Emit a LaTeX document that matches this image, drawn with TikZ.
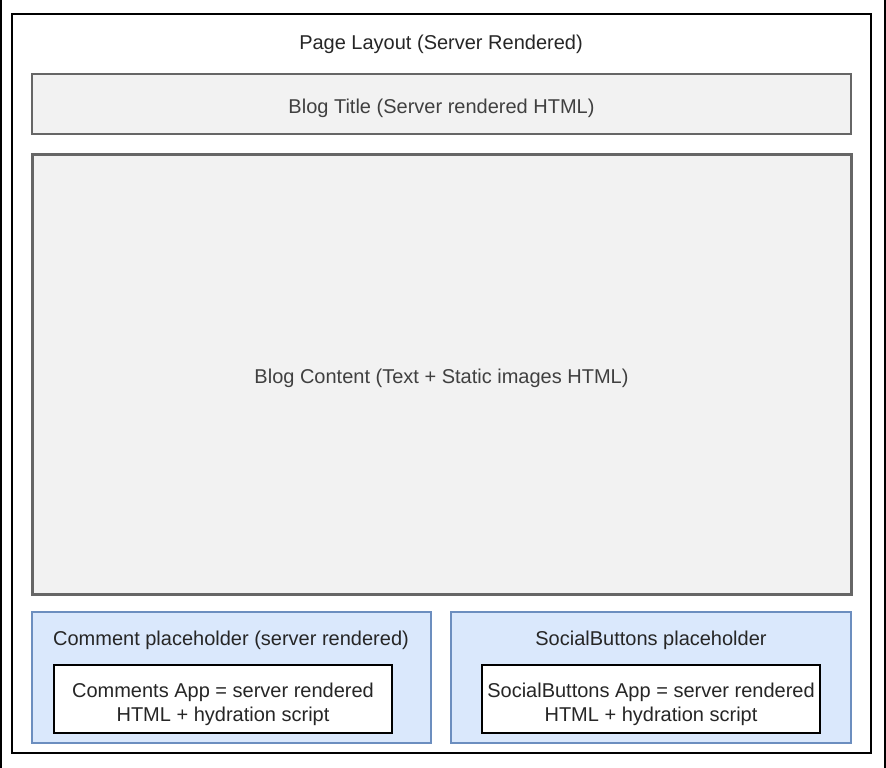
\documentclass[tikz,border=0pt]{standalone}
\usepackage{fontspec}
\setmainfont{Liberation Sans}
\begin{document}
\begin{tikzpicture}[x=1pt,y=-1pt,
  box/.style={draw, rectangle, anchor=north west, inner sep=0pt, outer sep=0pt},
  greybox/.style={box, draw=black!60, fill=black!5},
  appbox/.style={box, draw=black, fill=white, line width=1.3pt},
  lbl/.style={font=\fontsize{20}{24}\selectfont, text=black!85, yshift=-4pt},
  glbl/.style={font=\fontsize{20}{24}\selectfont, text=black!75, align=center, yshift=-4pt},
  applbl/.style={font=\fontsize{20}{24}\selectfont, text=black!85, align=center, yshift=-5pt}
]
\definecolor{phfill}{HTML}{DAE8FC}
\definecolor{phdraw}{HTML}{6C8EBF}
\useasboundingbox (0,0) rectangle (886,768);
\fill[white] (0,0) rectangle (886,768);
% side edges
\draw[line width=1.5pt] (1,0) -- (1,768);
\draw[line width=1.5pt] (885,0) -- (885,768);

% outer page frame
\node[box, draw=black, line width=2pt, minimum width=859pt, minimum height=739pt] (page) at (12,14) {};
\node[lbl] (pagelbl) at (441,40) {Page Layout (Server Rendered)};

% blog title
\node[greybox, line width=1.4pt, minimum width=819pt, minimum height=60pt] (title) at (32,74) {};
\node[glbl] at (title.center) {Blog Title (Server rendered HTML)};

% blog content
\node[greybox, line width=3pt, minimum width=819pt, minimum height=440pt] (content) at (32,154) {};
\node[glbl] at (content.center) {Blog Content (Text + Static images HTML)};

% comment placeholder
\node[box, draw=phdraw, fill=phfill, line width=1.3pt, minimum width=399pt, minimum height=131pt] (comph) at (32,612) {};
\node[lbl] (comphlbl) at (231,636) {Comment placeholder (server rendered)};
\node[appbox, minimum width=338pt, minimum height=68pt] (comapp) at (54,665) {};
\node[applbl] at (comapp.center) {Comments App = server rendered\\HTML + hydration script};

% social buttons placeholder
\node[box, draw=phdraw, fill=phfill, line width=1.3pt, minimum width=400pt, minimum height=131pt] (socph) at (451,612) {};
\node[lbl] (socphlbl) at (651,636) {SocialButtons placeholder};
\node[appbox, minimum width=338pt, minimum height=68pt] (socapp) at (482,665) {};
\node[applbl] at (socapp.center) {SocialButtons App = server rendered\\HTML + hydration script};
\end{tikzpicture}
\end{document}
